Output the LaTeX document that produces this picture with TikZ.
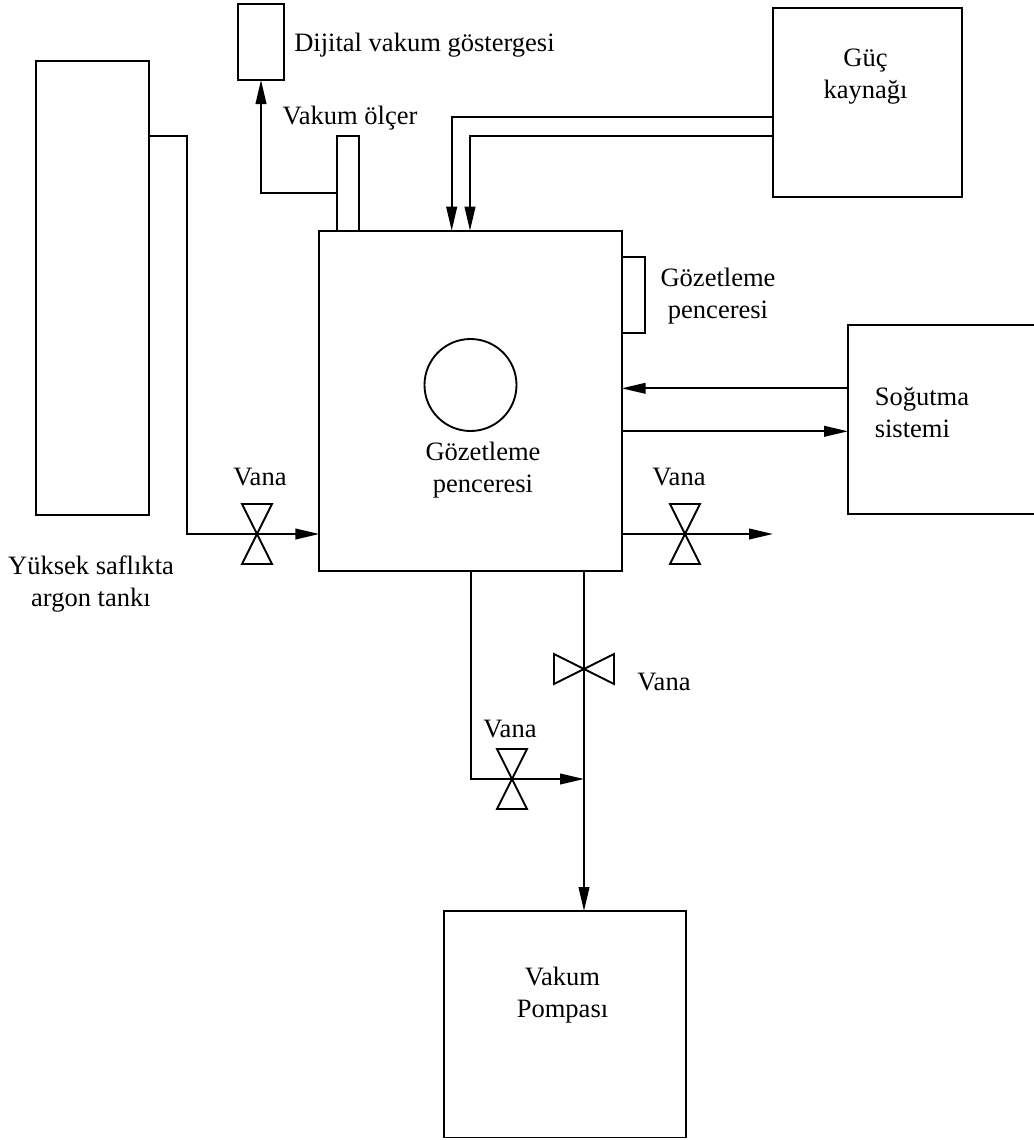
\documentclass[tikz,border=0pt]{standalone}
\usepackage{fontspec}
\setmainfont{Liberation Serif}
\usetikzlibrary{arrows.meta,calc}
\tikzset{
  x=0.75pt,y=-0.75pt,
  line/.style={draw=black,line width=1.4pt},
  flow/.style={line,-{Stealth[length=18pt,width=8pt,inset=0pt]}},
  lab/.style={font=\fontsize{19.9pt}{24pt}\selectfont,align=center,inner sep=0pt,text=black},
  boxx/.style={line,fill=white,rectangle,inner sep=0pt,outer sep=0pt,anchor=north west},
}
\newcommand{\boxat}[5]{\node[boxx,minimum width=#4*0.75pt,minimum height=#5*0.75pt] (#1) at (#2,#3) {};}
\newcommand{\vvalve}[3]{%
  \coordinate (#1) at (#2,#3);
  \draw[line] ($(#1)+(-15,-30)$) -- ($(#1)+(15,-30)$) -- ($(#1)+(-15,30)$) -- ($(#1)+(15,30)$) -- cycle;}
\newcommand{\hvalve}[3]{%
  \coordinate (#1) at (#2,#3);
  \draw[line] ($(#1)+(-30,-15)$) -- ($(#1)+(-30,15)$) -- ($(#1)+(30,-15)$) -- ($(#1)+(30,15)$) -- cycle;}
\begin{document}
\begin{tikzpicture}
\useasboundingbox (0,0) rectangle (1033,1140);
\boxat{tank}{36}{60.7}{113}{454}
\boxat{disp}{238}{4}{45.7}{76}
\boxat{gauge}{336.7}{136}{22.6}{94.7}
\boxat{chamber}{319.3}{230.7}{302.4}{340.3}
\boxat{power}{773.3}{8}{188.4}{188.7}
\boxat{win}{621.7}{256.7}{23.3}{76}
\boxat{cool}{848}{325}{191}{189}
\boxat{pump}{444.3}{911}{242}{226.5}
\node[line,circle,inner sep=0pt,outer sep=0pt,minimum size=92*0.75pt] (port) at (470.5,385) {};

\node[lab,anchor=west] (tdisp) at (294,45) {Dijital vakum göstergesi};
\node[lab] (tgauge) at (350,118) {Vakum ölçer};
\node[lab] (tpower) at (865.5,76.5) {Güç\\kaynağı};
\node[lab] (twin) at (718,296) {Gözetleme\\penceresi};
\node[lab] (tport) at (483,470) {Gözetleme\\penceresi};
\node[lab,anchor=west,align=left] (tcool) at (874.5,413) {Soğutma\\sistemi};
\node[lab] (ttank) at (91,584) {Yüksek saflıkta\\argon tankı};
\node[lab] (tv1) at (260,477) {Vana};
\node[lab] (tv2) at (679,477) {Vana};
\node[lab] (tv3) at (664,682) {Vana};
\node[lab] (tv4) at (510,729) {Vana};
\node[lab] (tpump2) at (562.5,995.5) {Vakum\\Pompası};

% connectors
\coordinate (t1) at (tank.east |- 0,136);
\draw[flow] (t1) -| (187,534) -- (chamber.west |- 0,534);
\coordinate (g1) at (gauge.west |- 0,192.7);
\draw[flow] (g1) -| (disp.south -| 261,0);
\coordinate (p1) at (power.west |- 0,117.3);
\coordinate (p2) at (power.west |- 0,136);
\draw[flow] (p1) -| (chamber.north -| 451.7,0);
\draw[flow] (p2) -| (chamber.north -| 470,0);
\coordinate (c1) at (cool.west |- 0,388.3);
\coordinate (c2) at (chamber.east |- 0,431.3);
\draw[flow] (c1) -- (chamber.east |- c1);
\draw[flow] (c2) -- (cool.west |- c2);
\coordinate (o1) at (chamber.east |- 0,534);
\coordinate (o2) at (773,534);
\draw[flow] (o1) -- (o2);
\coordinate (b1) at (chamber.south -| 584,0);
\draw[flow] (b1) -- (pump.north -| b1);
\coordinate (b2) at (chamber.south -| 470.7,0);
\coordinate (b3) at (584,779);
\draw[flow] (b2) |- (b3);

\vvalve{v1}{257}{534}
\vvalve{v2}{685}{534}
\hvalve{v3}{584}{669}
\vvalve{v4}{512}{779}
\end{tikzpicture}
\end{document}
